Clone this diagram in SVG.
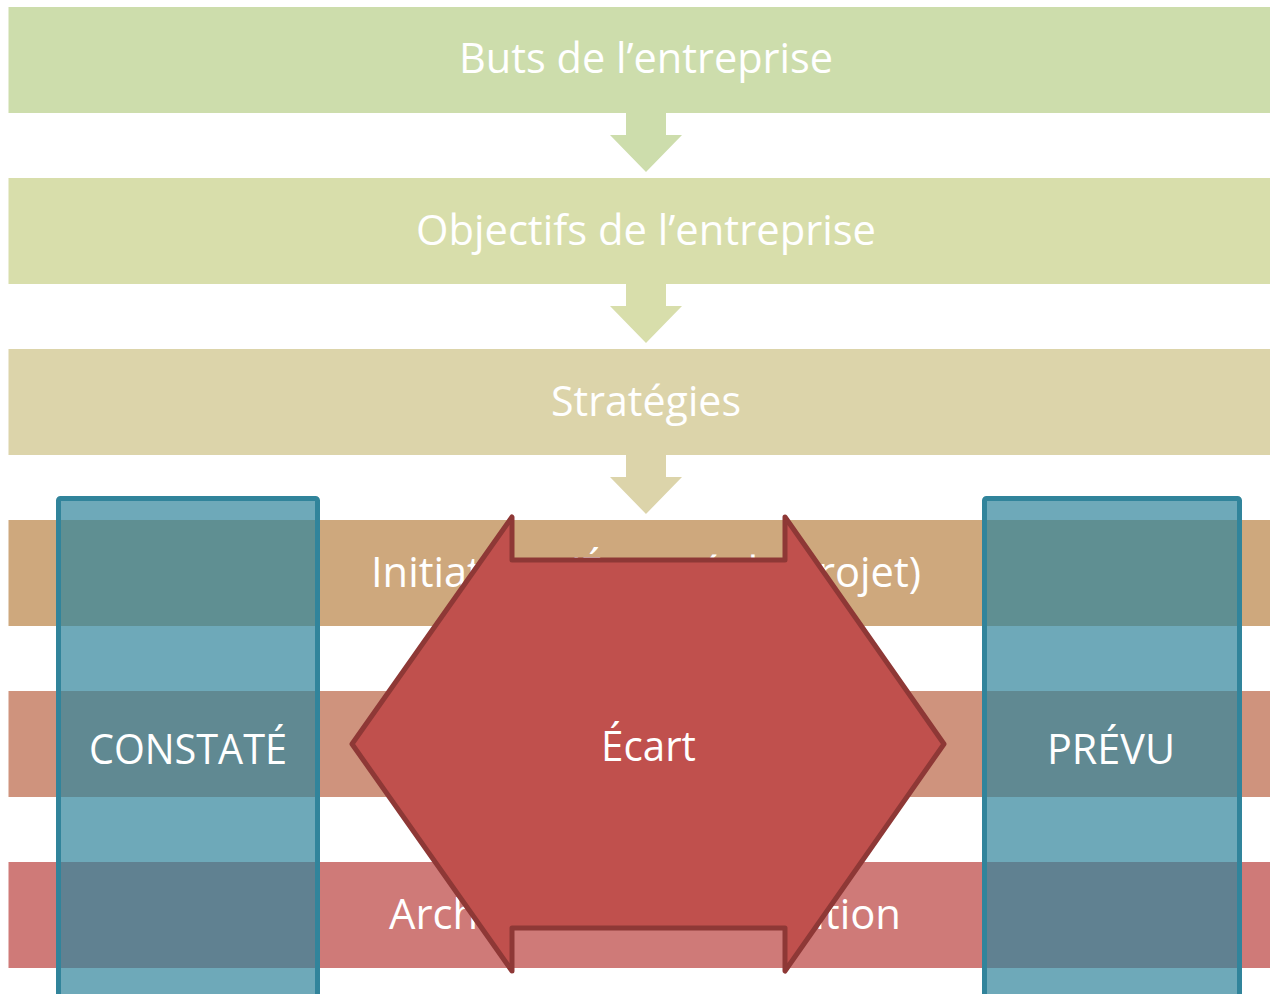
<svg xmlns="http://www.w3.org/2000/svg" width="1270" height="994" viewBox="0 0 1270 994">
<style>
.t{font-family:"Open Sans","Noto Sans","Liberation Sans",sans-serif;font-size:42px;fill:#ffffff}
.box{fill:#31849B;fill-opacity:0.7;stroke:#31849B;stroke-width:5;stroke-linejoin:round}
.gap{fill:#C0504D;stroke:#8E3836;stroke-width:5;stroke-linejoin:round}
</style>
<rect width="1270" height="994" fill="#ffffff"/>
<g id="band1"><rect x="8.5" y="7" width="1262" height="106" fill="#CDDDAC"/><text class="t" x="459" y="73" textLength="374" lengthAdjust="spacingAndGlyphs">Buts de l’entreprise</text></g>
<g id="band2"><rect x="8.5" y="178" width="1262" height="106" fill="#D8DEAB"/><text class="t" x="416" y="245" textLength="460" lengthAdjust="spacingAndGlyphs">Objectifs de l’entreprise</text></g>
<g id="band3"><rect x="8.5" y="349" width="1262" height="106" fill="#DCD4AA"/><text class="t" x="551" y="416" textLength="190" lengthAdjust="spacingAndGlyphs">Stratégies</text></g>
<g id="band4"><rect x="8.5" y="520" width="1262" height="106" fill="#CEA87D"/><text class="t" x="371" y="587" textLength="550" lengthAdjust="spacingAndGlyphs">Initiatives (Énoncé de projet)</text></g>
<g id="band5"><rect x="8.5" y="691" width="1262" height="106" fill="#CF937D"/></g>
<g id="band6"><rect x="8.5" y="862" width="1262" height="106" fill="#CF7A78"/><text class="t" x="389" y="929" textLength="512" lengthAdjust="spacingAndGlyphs">Architecture de la solution</text></g>
<g id="connectors">
<path d="M626,112 H666 V135 H682 L646,172 L610,135 H626 Z" fill="#CDDDAC"/>
<path d="M626,283 H666 V306 H682 L646,343 L610,306 H626 Z" fill="#D8DEAB"/>
<path d="M626,454 H666 V477 H682 L646,514 L610,477 H626 Z" fill="#DCD4AA"/>
</g>
<g id="constate"><rect class="box" x="58.5" y="498.5" width="259" height="510" rx="2"/><text class="t" x="89" y="764" textLength="198" lengthAdjust="spacingAndGlyphs">CONSTATÉ</text></g>
<g id="prevu"><rect class="box" x="984.5" y="498.5" width="255" height="510" rx="2"/><text class="t" x="1047" y="764" textLength="128" lengthAdjust="spacingAndGlyphs">PRÉVU</text></g>
<g id="ecart"><path class="gap" d="M512,517 V560 H785 V517 L944,744 L785,971 V928 H512 V971 L352,744 Z"/><text class="t" x="601" y="761" textLength="95" lengthAdjust="spacingAndGlyphs">Écart</text></g>
</svg>
